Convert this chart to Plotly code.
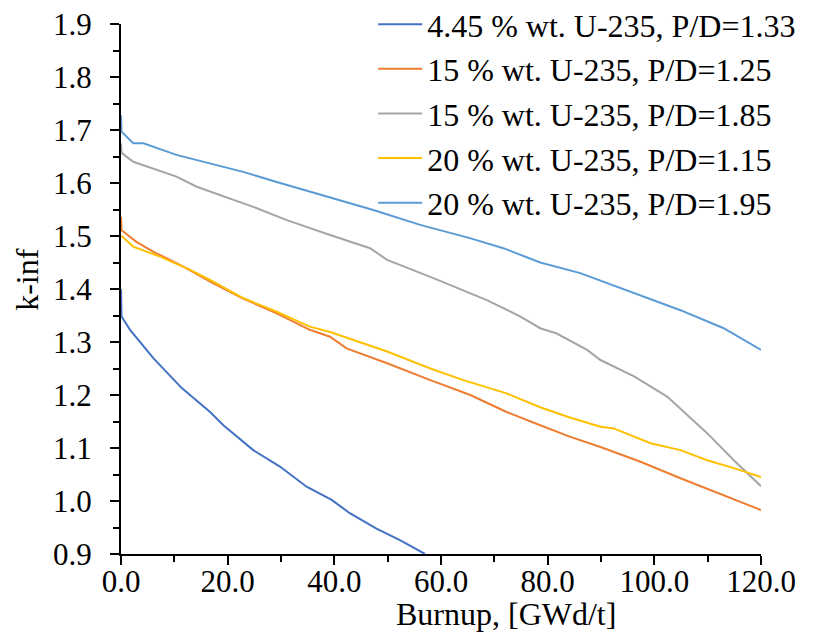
import plotly.graph_objects as go

# ---- data ----
names = [
    "4.45 % wt. U-235, P/D=1.33",
    "15 % wt. U-235, P/D=1.25",
    "15 % wt. U-235, P/D=1.85",
    "20 % wt. U-235, P/D=1.15",
    "20 % wt. U-235, P/D=1.95",
]
colors = ["#4472C4", "#ED7D31", "#A5A5A5", "#FFC000", "#5B9BD5"]

x1 = [0, 0.1, 1.7, 6.1, 11.4, 16.7, 19.2, 24.8, 29.8, 34.8, 39.5, 42.9, 47.9, 52.3, 57.0]
y1 = [1.400, 1.348, 1.323, 1.269, 1.213, 1.168, 1.143, 1.096, 1.065, 1.027, 1.002, 0.977, 0.948, 0.926, 0.900]

x2 = [0, 0.1, 2.9, 6.1, 9.2, 12.3, 16.7, 22.9, 29.2, 35.4, 39.2, 42.3, 49.9, 58.0, 65.5, 72.3, 78.6, 84.0, 89.9, 97.4, 104.9, 112.3, 120]
y2 = [1.536, 1.511, 1.489, 1.470, 1.455, 1.439, 1.414, 1.382, 1.354, 1.323, 1.310, 1.288, 1.260, 1.228, 1.200, 1.168, 1.143, 1.122, 1.102, 1.074, 1.043, 1.014, 0.983]

x3 = [0, 0.1, 2.3, 4.8, 10.4, 14.2, 18.6, 24.8, 31.1, 37.3, 39.2, 46.7, 49.9, 58.0, 68.6, 74.9, 78.6, 81.7, 87.4, 89.9, 96.2, 102.4, 109.9, 114.9, 120]
y3 = [1.675, 1.657, 1.640, 1.631, 1.612, 1.593, 1.577, 1.555, 1.530, 1.508, 1.502, 1.477, 1.455, 1.423, 1.379, 1.348, 1.326, 1.316, 1.285, 1.266, 1.235, 1.197, 1.128, 1.077, 1.028]

x4 = [0, 2.3, 7.3, 13.0, 16.7, 22.9, 29.2, 35.4, 39.2, 43.6, 49.9, 58.0, 64.2, 72.3, 78.6, 84.0, 89.9, 92.4, 99.3, 104.9, 109.9, 114.9, 120]
y4 = [1.501, 1.480, 1.461, 1.436, 1.417, 1.383, 1.357, 1.329, 1.319, 1.304, 1.282, 1.250, 1.228, 1.203, 1.177, 1.158, 1.140, 1.137, 1.109, 1.096, 1.077, 1.062, 1.045]

x5 = [0, 0.1, 2.3, 4.2, 10.4, 16.7, 22.9, 29.2, 35.4, 39.2, 47.3, 56.1, 65.4, 71.7, 78.6, 86.1, 95.5, 104.9, 113.0, 120]
y5 = [1.728, 1.697, 1.675, 1.675, 1.653, 1.637, 1.621, 1.602, 1.584, 1.573, 1.549, 1.521, 1.496, 1.477, 1.450, 1.430, 1.395, 1.360, 1.326, 1.285]

xs = [x1, x2, x3, x4, x5]
ys = [y1, y2, y3, y4, y5]

FONT = "Liberation Serif"

fig = go.Figure()
for n, c, xv, yv in zip(names, colors, xs, ys):
    fig.add_trace(go.Scatter(x=xv, y=yv, mode="lines", name=n,
                             line=dict(color=c, width=2)))

axis_common = dict(
    showgrid=False, zeroline=False, showline=True, linecolor="black", linewidth=2,
    ticks="outside", ticklen=9, tickwidth=2, tickcolor="black",
    tickfont=dict(family=FONT, size=31, color="black"),
    tickformat=".1f", layer="below traces", ticklabeloverflow="allow",
)

fig.update_layout(
    width=808, height=629,
    margin=dict(l=113, r=55, t=16, b=83, autoexpand=False),
    paper_bgcolor="white", plot_bgcolor="white",
    font=dict(family=FONT, color="black"),
    xaxis=dict(range=[0, 120], dtick=20, tick0=0, ticklabelstandoff=-10,
               minor=dict(ticks="outside", ticklen=6, tickwidth=2, tickcolor="black", dtick=10),
               **axis_common),
    yaxis=dict(range=[0.9, 1.9], dtick=0.1, tick0=0.9, ticklabelstandoff=12,
               minor=dict(ticks="outside", ticklen=6, tickwidth=2, tickcolor="black", dtick=0.05),
               **axis_common),
    legend=dict(x=0.394, y=1.051, xanchor="left", yanchor="top",
                font=dict(family=FONT, size=32, color="black"),
                bgcolor="rgba(0,0,0,0)", itemwidth=44),
    showlegend=True,
    annotations=[
        dict(text="Burnup, [GWd/t]", xref="paper", yref="paper", x=0.602, y=-0.113,
             xanchor="center", yanchor="middle", showarrow=False,
             font=dict(family=FONT, size=32, color="black")),
        dict(text="k-inf", xref="paper", yref="paper", x=-0.147, y=0.519,
             xanchor="center", yanchor="middle", showarrow=False, textangle=-90,
             font=dict(family=FONT, size=32, color="black")),
    ],
)

fig.write_html("out.html")
